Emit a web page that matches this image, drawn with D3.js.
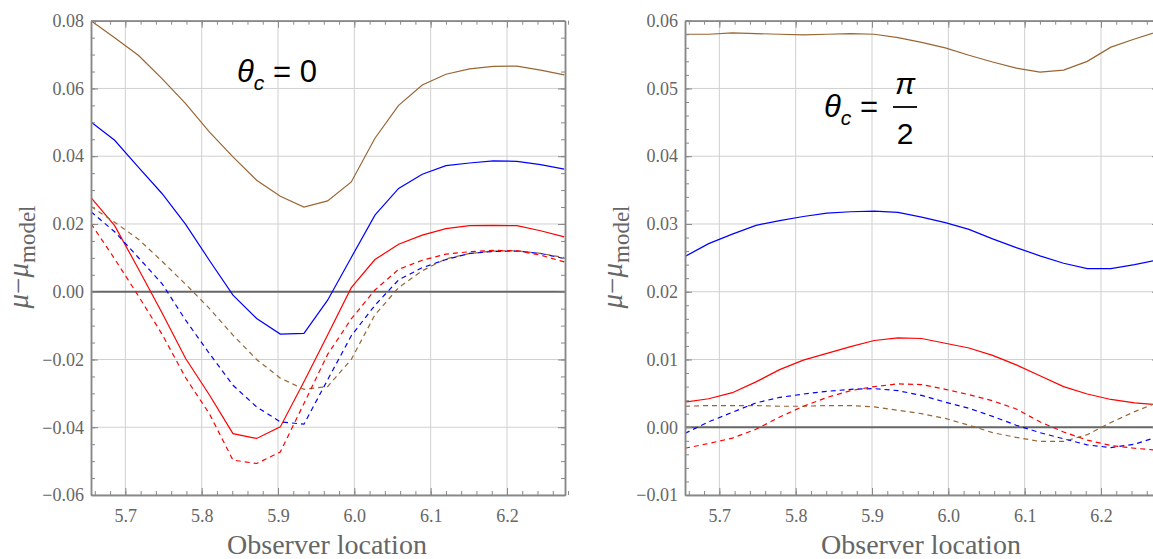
<!DOCTYPE html>
<html>
<head>
<meta charset="utf-8">
<script src="https://cdn.jsdelivr.net/npm/d3@7"></script>
<style>
  body { margin: 0; background: #fff; }
</style>
</head>
<body>
<div id="chart"></div>
<script>
// observer location samples (shared by both panels)
var obsLoc = [5.655, 5.686, 5.717, 5.748, 5.779, 5.810, 5.841, 5.872, 5.903, 5.934, 5.965,
              5.996, 6.027, 6.058, 6.089, 6.120, 6.151, 6.182, 6.213, 6.244, 6.275];

// theta_c = 0
var brownSolid0 = [0.0800, 0.0750, 0.0698, 0.0629, 0.0555, 0.0472, 0.0398, 0.0329, 0.0282, 0.0250, 0.0268,
                   0.0324, 0.0453, 0.0550, 0.0610, 0.0642, 0.0658, 0.0665, 0.0666, 0.0654, 0.0640];
var blueSolid0  = [0.0501, 0.0447, 0.0368, 0.0290, 0.0199, 0.0093, -0.0010, -0.0079, -0.0125, -0.0123, -0.0025,
                   0.0101, 0.0226, 0.0305, 0.0347, 0.0372, 0.0380, 0.0386, 0.0385, 0.0375, 0.0362];
var redSolid0   = [0.0278, 0.0195, 0.0068, -0.0062, -0.0197, -0.0304, -0.0419, -0.0433, -0.0399, -0.0266, -0.0128,
                   0.0012, 0.0095, 0.0140, 0.0167, 0.0186, 0.0195, 0.0196, 0.0195, 0.0180, 0.0162];
var redDash0    = [0.0201, 0.0097, -0.0012, -0.0125, -0.0254, -0.0360, -0.0497, -0.0507, -0.0473, -0.0330, -0.0185,
                   -0.0080, 0.0005, 0.0066, 0.0093, 0.0111, 0.0118, 0.0122, 0.0121, 0.0108, 0.0088];
var blueDash0   = [0.0236, 0.0177, 0.0101, 0.0024, -0.0084, -0.0182, -0.0276, -0.0340, -0.0384, -0.0391, -0.0260,
                   -0.0130, -0.0040, 0.0035, 0.0071, 0.0095, 0.0113, 0.0119, 0.0120, 0.0113, 0.0098];
var brownDash0  = [0.0252, 0.0205, 0.0155, 0.0090, 0.0022, -0.0049, -0.0128, -0.0200, -0.0255, -0.0288, -0.0280,
                   -0.0200, -0.0068, 0.0012, 0.0062, 0.0097, 0.0113, 0.0120, 0.0121, 0.0113, 0.0101];

// theta_c = pi/2
var brownSolid1 = [0.0580, 0.0580, 0.0582, 0.0581, 0.0580, 0.0579, 0.0580, 0.0581, 0.0580, 0.0575, 0.0568,
                   0.0560, 0.0549, 0.0539, 0.0530, 0.0524, 0.0527, 0.0540, 0.0561, 0.0573, 0.0584];
var blueSolid1  = [0.0252, 0.0271, 0.0285, 0.0298, 0.0305, 0.0311, 0.0316, 0.0318, 0.0319, 0.0317, 0.0310,
                   0.0302, 0.0292, 0.0278, 0.0265, 0.0253, 0.0242, 0.0234, 0.0234, 0.0240, 0.0247];
var redSolid1   = [0.0037, 0.0042, 0.0051, 0.0067, 0.0085, 0.0099, 0.0109, 0.0119, 0.0128, 0.0132, 0.0131,
                   0.0124, 0.0117, 0.0106, 0.0092, 0.0076, 0.0060, 0.0049, 0.0041, 0.0036, 0.0033];
var redDash1    = [-0.0031, -0.0024, -0.0016, -0.0003, 0.0015, 0.0031, 0.0044, 0.0054, 0.0060, 0.0064, 0.0063,
                   0.0056, 0.0048, 0.0039, 0.0027, 0.0008, -0.0007, -0.0019, -0.0027, -0.0031, -0.0034];
var blueDash1   = [-0.0009, 0.0008, 0.0022, 0.0036, 0.0044, 0.0049, 0.0053, 0.0056, 0.0057, 0.0054, 0.0047,
                   0.0037, 0.0028, 0.0016, 0.0003, -0.0008, -0.0017, -0.0026, -0.0030, -0.0025, -0.0014];
var brownDash1  = [0.0031, 0.0032, 0.0032, 0.0032, 0.0031, 0.0031, 0.0032, 0.0032, 0.0030, 0.0025, 0.0020,
                   0.0013, 0.0003, -0.0008, -0.0015, -0.0021, -0.0021, -0.0011, 0.0007, 0.0023, 0.0037];

var xTicks = [5.7, 5.8, 5.9, 6.0, 6.1, 6.2];
var yTicks0 = [-0.06, -0.04, -0.02, 0.00, 0.02, 0.04, 0.06, 0.08];
var yTicks1 = [-0.01, 0.00, 0.01, 0.02, 0.03, 0.04, 0.05, 0.06];

var W = 1153, H = 559;
var BROWN = "#996633", BLUE = "#0000ff", RED = "#ff0000";
var AXIS = "#888", LABEL = "#666", GRID = "#d0d0d0";
var serif = "'Liberation Serif', 'Times New Roman', serif";
var sans = "'Liberation Sans', Arial, sans-serif";

var svg = d3.select("#chart").append("svg")
    .attr("width", W)
    .attr("height", H)
    .style("background", "#fff");

function drawPanel(p) {
    var g = svg.append("g").attr("transform", "translate(" + p.left + "," + p.top + ")");
    var x = d3.scaleLinear().domain([5.655, 6.276]).range([0, p.w]);
    var y = d3.scaleLinear().domain(p.yDomain).range([p.h, 0]);

    var clipId = "clip" + p.id;
    g.append("clipPath").attr("id", clipId)
        .append("rect").attr("width", p.w).attr("height", p.h);

    // grid
    g.selectAll(".vgrid").data(xTicks).enter().append("line")
        .attr("x1", d => x(d)).attr("x2", d => x(d))
        .attr("y1", 0).attr("y2", p.h)
        .attr("stroke", GRID).attr("stroke-width", 1);
    g.selectAll(".hgrid").data(p.yTicks.filter(d => d !== 0)).enter().append("line")
        .attr("x1", 0).attr("x2", p.w)
        .attr("y1", d => y(d)).attr("y2", d => y(d))
        .attr("stroke", GRID).attr("stroke-width", 1);

    // zero line
    g.append("line")
        .attr("x1", 0).attr("x2", p.w)
        .attr("y1", y(0)).attr("y2", y(0))
        .attr("stroke", "#666").attr("stroke-width", 2);

    // curves
    var line = d3.line()
        .x((d, i) => x(obsLoc[i]))
        .y(d => y(d));
    var curves = g.append("g").attr("clip-path", "url(#" + clipId + ")");
    p.series.forEach(function (s) {
        curves.append("path")
            .datum(s.values)
            .attr("d", line)
            .attr("fill", "none")
            .attr("stroke", s.color)
            .attr("stroke-width", 1.2)
            .attr("stroke-dasharray", s.dashed ? "5,4" : null);
    });

    // axes: minor + major ticks on all four sides, pointing inward
    var xMinor = d3.range(5.66, 6.28, 0.02);
    var yMinor = d3.range(p.yDomain[0], p.yDomain[1] + 1e-9, p.yMinor);
    function styleAxis(a) {
        a.attr("font-family", serif).attr("font-size", 18);
        a.select(".domain").attr("stroke", AXIS).attr("stroke-width", 1.5);
        a.selectAll(".tick line").attr("stroke", AXIS).attr("stroke-width", 1);
        a.selectAll("text").attr("fill", LABEL);
    }
    var fmtY = d3.format(".2f");

    g.append("g").attr("transform", "translate(0," + p.h + ")")
        .call(d3.axisBottom(x).tickValues(xMinor).tickSize(-4).tickFormat("").tickSizeOuter(0))
        .call(styleAxis);
    g.append("g").attr("transform", "translate(0," + p.h + ")")
        .call(d3.axisBottom(x).tickValues(xTicks).tickSize(-7).tickPadding(14).tickFormat(d3.format(".1f")).tickSizeOuter(0))
        .call(styleAxis);
    g.append("g")
        .call(d3.axisTop(x).tickValues(xMinor).tickSize(-4).tickFormat("").tickSizeOuter(0))
        .call(styleAxis);
    g.append("g")
        .call(d3.axisTop(x).tickValues(xTicks).tickSize(-7).tickFormat("").tickSizeOuter(0))
        .call(styleAxis);

    g.append("g")
        .call(d3.axisLeft(y).tickValues(yMinor).tickSize(-4).tickFormat("").tickSizeOuter(0))
        .call(styleAxis);
    g.append("g")
        .call(d3.axisLeft(y).tickValues(p.yTicks).tickSize(-7).tickPadding(7).tickFormat(fmtY).tickSizeOuter(0))
        .call(styleAxis);
    g.append("g").attr("transform", "translate(" + p.w + ",0)")
        .call(d3.axisRight(y).tickValues(yMinor).tickSize(-4).tickFormat("").tickSizeOuter(0))
        .call(styleAxis);
    g.append("g").attr("transform", "translate(" + p.w + ",0)")
        .call(d3.axisRight(y).tickValues(p.yTicks).tickSize(-7).tickFormat("").tickSizeOuter(0))
        .call(styleAxis);

    // x axis title
    svg.append("text")
        .attr("x", p.left + p.w / 2 - 1)
        .attr("y", 554)
        .attr("text-anchor", "middle")
        .attr("fill", LABEL)
        .style("font-family", serif)
        .style("font-size", "28px")
        .text("Observer location");

    // y axis title
    var yl = svg.append("text")
        .attr("transform", "translate(" + (p.left - 63) + ",257) rotate(-90)")
        .attr("text-anchor", "middle")
        .attr("fill", LABEL)
        .style("font-family", serif)
        .style("font-size", "29px");
    yl.append("tspan").style("font-style", "italic").text("\u03bc");
    yl.append("tspan").text("\u2212");
    yl.append("tspan").style("font-style", "italic").text("\u03bc");
    yl.append("tspan").attr("dy", 7).style("font-size", "23px").text("model");
}

drawPanel({
    id: 0, left: 91, top: 20.7, w: 474, h: 474.3,
    yDomain: [-0.06, 0.08], yTicks: yTicks0, yMinor: 0.005,
    series: [
        { values: brownSolid0, color: BROWN },
        { values: blueSolid0, color: BLUE },
        { values: redSolid0, color: RED },
        { values: brownDash0, color: BROWN, dashed: true },
        { values: blueDash0, color: BLUE, dashed: true },
        { values: redDash0, color: RED, dashed: true }
    ]
});

drawPanel({
    id: 1, left: 685, top: 20.7, w: 474, h: 474.3,
    yDomain: [-0.01, 0.06], yTicks: yTicks1, yMinor: 0.002,
    series: [
        { values: brownSolid1, color: BROWN },
        { values: blueSolid1, color: BLUE },
        { values: redSolid1, color: RED },
        { values: brownDash1, color: BROWN, dashed: true },
        { values: blueDash1, color: BLUE, dashed: true },
        { values: redDash1, color: RED, dashed: true }
    ]
});

// panel annotations
var t0 = svg.append("text")
    .attr("x", 237).attr("y", 82)
    .style("font-family", sans).style("font-size", "31px").attr("fill", "#000");
t0.append("tspan").style("font-style", "italic").text("\u03b8");
t0.append("tspan").style("font-style", "italic").style("font-size", "21px").attr("dy", 8).text("c");
t0.append("tspan").attr("dy", -8).text(" = 0");

var t1 = svg.append("text")
    .attr("x", 824).attr("y", 117)
    .style("font-family", sans).style("font-size", "31px").attr("fill", "#000");
t1.append("tspan").style("font-style", "italic").text("\u03b8");
t1.append("tspan").style("font-style", "italic").style("font-size", "21px").attr("dy", 8).text("c");
t1.append("tspan").attr("dy", -8).text(" =");

svg.append("text")
    .attr("x", 905).attr("y", 94)
    .attr("text-anchor", "middle")
    .style("font-family", sans).style("font-size", "30px").style("font-style", "italic")
    .text("\u03c0");
svg.append("line")
    .attr("x1", 893).attr("x2", 917)
    .attr("y1", 107).attr("y2", 107)
    .attr("stroke", "#000").attr("stroke-width", 1.8);
svg.append("text")
    .attr("x", 905).attr("y", 144)
    .attr("text-anchor", "middle")
    .style("font-family", sans).style("font-size", "30px")
    .text("2");
</script>
</body>
</html>
